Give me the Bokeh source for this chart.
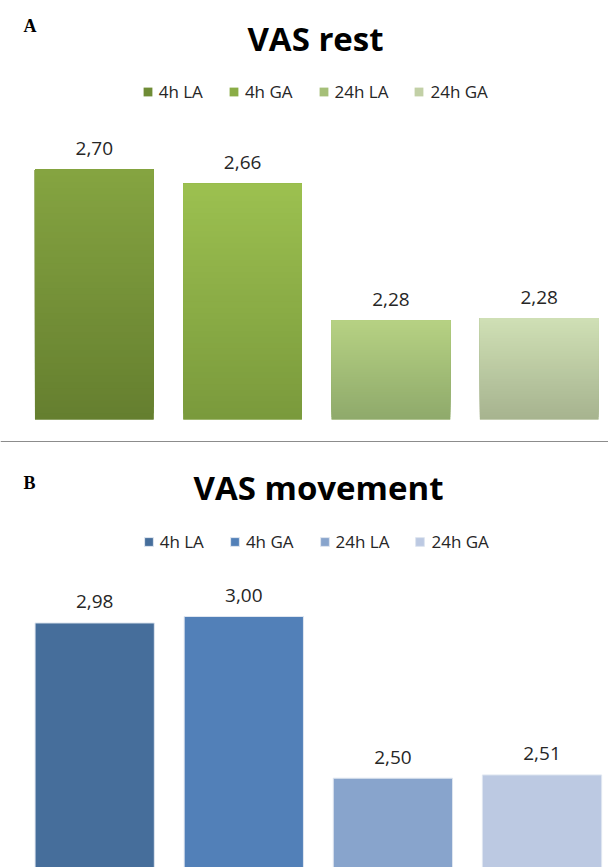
from bokeh.plotting import figure
from bokeh.models import ColumnDataSource, Range1d, Label, Legend, LegendItem, Span
from bokeh.layouts import column
from bokeh.core.properties import value
from bokeh.embed import file_html
from bokeh.resources import INLINE

# ---------------- data ----------------
categories = ["4h LA", "4h GA", "24h LA", "24h GA"]
rest_values = [2.70, 2.66, 2.278, 2.284]
movement_values = [2.98, 3.00, 2.50, 2.51]
axis_min = 2.0

rest_top_colors = ["#85a441", "#9cc050", "#b6d283", "#d0e0b5"]
rest_bottom_colors = ["#657f2f", "#7a9a3c", "#8fa96b", "#a6b38f"]
rest_legend_colors = ["#6f8c36", "#8aac46", "#a5bf78", "#c2d0a6"]
move_colors = ["#466e9b", "#5280b8", "#88a4cc", "#bcc9e2"]

panel_titles = ["VAS rest", "VAS movement"]
panel_letters = ["A", "B"]

# ---------------- layout constants (reference pixels) ----------------
W = 608
A_TOP, A_BOT = 0, 442
B_TOP, B_BOT = 442, 867
HA = A_BOT - A_TOP
HB = B_BOT - B_TOP
TXT = "#262626"


def fmt(v):
    return f"{v:.2f}".replace(".", ",")


def hex2rgb(h):
    return tuple(int(h[i:i + 2], 16) for i in (1, 3, 5))


def mix(c1, c2, t):
    a, b = hex2rgb(c1), hex2rgb(c2)
    return "#%02x%02x%02x" % tuple(round(a[j] + (b[j] - a[j]) * t) for j in range(3))


def make_fig(h, x0, pitch, y0, y1):
    xs = -x0 / pitch
    p = figure(width=W, height=h, x_range=Range1d(xs, xs + W / pitch),
               y_range=Range1d(y0, y1), output_backend="svg", toolbar_location=None,
               title=None, min_border=0, x_axis_location=None, y_axis_location=None,
               outline_line_color=None, background_fill_color="white",
               border_fill_color="white")
    p.grid.grid_line_color = None
    return p


def add_legend(p, renderer, lx, ly):
    items = [LegendItem(label=c, renderers=[renderer], index=i) for i, c in enumerate(categories)]
    lg = Legend(items=items, orientation="horizontal", location=(lx, ly),
                glyph_width=11, glyph_height=11, label_standoff=6, spacing=25,
                padding=0, margin=0, border_line_color=None, background_fill_alpha=0,
                label_text_font="Open Sans", label_text_font_size="17px",
                label_text_color=TXT)
    p.add_layout(lg)


def add_text(p, bot, x, ref_y, text, font, size, align="left"):
    p.add_layout(Label(x=x, y=bot - ref_y, x_units="screen", y_units="screen",
                       text=text, text_font=font, text_font_style="bold",
                       text_font_size=size, text_align=align,
                       text_baseline="alphabetic", text_color="black"))


# ---------------- panel A ----------------
scaleA = 357.1
baseA_ref = 419.0
yA0 = axis_min - (A_BOT - baseA_ref) / scaleA
yA1 = axis_min + (baseA_ref - A_TOP) / scaleA
pA = make_fig(HA, 93.8, 148.3, yA0, yA1)

xs = list(range(len(categories)))
srcA = ColumnDataSource(dict(x=xs, top=rest_values, color=rest_legend_colors,
                             label=[fmt(v) for v in rest_values]))
baseA = pA.vbar(x="x", top="top", bottom=axis_min, width=0.8, source=srcA,
                fill_color="color", line_color=None)

# vertical gradient (style only): overlapping slices from bottom colour to top colour
N = 40
gx, gb, gt, gc = [], [], [], []
for k in range(N):
    for i, v in enumerate(rest_values):
        gx.append(i)
        gb.append(axis_min + (v - axis_min) * k / N)
        gt.append(v)
        gc.append(mix(rest_bottom_colors[i], rest_top_colors[i], (k + 0.5) / N))
pA.vbar(x="x", bottom="bottom", top="top", width=0.8, fill_color="color", line_color=None,
        source=ColumnDataSource(dict(x=gx, bottom=gb, top=gt, color=gc)))

pA.text(x="x", y="top", text="label", source=srcA, text_align="center",
        text_baseline="alphabetic", y_offset=-21, text_font=value("Open Sans"),
        text_font_size="19px", text_color=TXT)

add_text(pA, A_BOT, 23, 25.5, panel_letters[0], "Liberation Serif", "18px")
add_text(pA, A_BOT, 315, 38, panel_titles[0], "Open Sans", "33px", "center")
add_legend(pA, baseA, 141.7, A_BOT - 103.3)

pA.add_layout(Span(location=axis_min - (441.3 - baseA_ref) / scaleA, dimension="width",
                   line_color="#8c8c8c", line_width=1.5))

# ---------------- panel B ----------------
scaleB = 323.4
refB_val, refB_px = 3.0, 616.0
yB0 = refB_val - (B_BOT - refB_px) / scaleB
yB1 = refB_val + (refB_px - B_TOP) / scaleB
pB = make_fig(HB, 94.2, 149.1, yB0, yB1)

srcB = ColumnDataSource(dict(x=xs, top=movement_values, color=move_colors,
                             label=[fmt(v) for v in movement_values]))
baseB = pB.vbar(x="x", top="top", bottom=axis_min, width=0.8, source=srcB,
                fill_color="color", line_color="#dfe6f0", line_width=1)
pB.text(x="x", y="top", text="label", source=srcB, text_align="center",
        text_baseline="alphabetic", y_offset=-21, text_font=value("Open Sans"),
        text_font_size="19px", text_color=TXT)

add_text(pB, B_BOT, 23, 482.5, panel_letters[1], "Liberation Serif", "18px")
add_text(pB, B_BOT, 318, 486.5, panel_titles[1], "Open Sans", "33px", "center")
add_legend(pB, baseB, 142.7, B_BOT - 553)

layout = column(pA, pB, spacing=0)
open("out.html", "w").write(file_html(layout, INLINE))
